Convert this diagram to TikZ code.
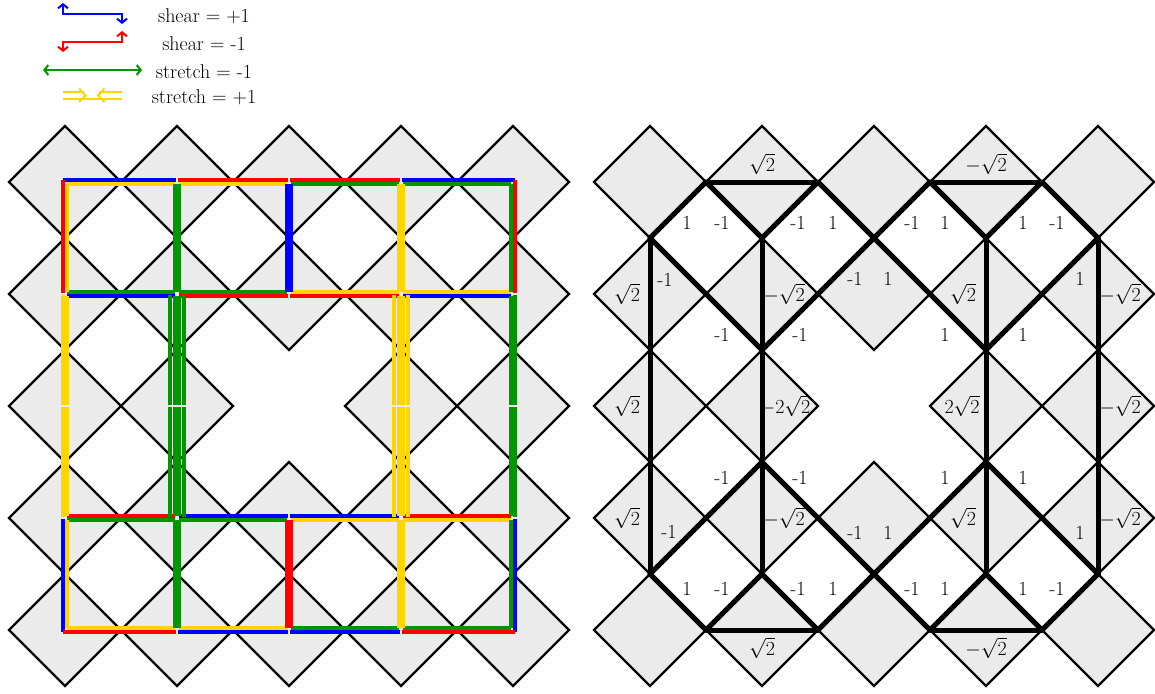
\RequirePackage{fix-cm}
\documentclass[tikz,border=0pt]{standalone}
\usepackage{fontspec}
\usetikzlibrary{arrows.meta}
\definecolor{tilegray}{RGB}{235,235,235}
\definecolor{cblue}{RGB}{0,0,255}
\definecolor{cred}{RGB}{255,0,0}
\definecolor{cgreen}{RGB}{0,150,0}
\definecolor{cyellow}{RGB}{255,213,0}
\newcommand\lnoff{2.3}
\newcommand\Hln[7]{\draw[linkline,#1] ({#2+(#6)*\lnoff},{#4+(#5)*\lnoff}) -- ({#3-(#7)*\lnoff},{#4+(#5)*\lnoff});}
\newcommand\Vln[7]{\draw[linkline,#1] ({#4+(#5)*\lnoff},{#2+(#6)*\lnoff}) -- ({#4+(#5)*\lnoff},{#3-(#7)*\lnoff});}
\newcommand\Cell[8]{%
 \Hln{#5}{#1}{#2}{#3}{1}{1}{1}%
 \Hln{#8}{#1}{#2}{#4}{-1}{1}{1}%
 \Vln{#6}{#3}{#4}{#1}{1}{1}{1}%
 \Vln{#7}{#3}{#4}{#2}{-1}{1}{1}}
\begin{document}
\begin{tikzpicture}[x=1pt,y=-1pt,
  tileshape/.style={fill=tilegray,draw=black,line width=2.2pt,line join=miter},
  linkline/.style={line width=3.9pt},
  thickln/.style={line width=5pt,line cap=round,line join=round},
  lbl/.style={font=\fontsize{20}{24}\selectfont,inner sep=0pt},
  legtxt/.style={font=\fontsize{20}{24}\selectfont,anchor=base,inner sep=0pt},
  legarrow/.style={line width=2pt,{Straight Barb[length=4pt,width=10pt]}-{Straight Barb[length=4pt,width=10pt]}}
]
\useasboundingbox (0,0) rectangle (1155,693);

% ---------- legend ----------
\draw[legarrow,cblue] (63,3) -- (63,14) -- (122,14) -- (122,24);
\draw[legarrow,cred] (63,52) -- (63,42) -- (122,42) -- (122,31);
\draw[legarrow,cgreen] (43,70) -- (142,70);
\draw[cyellow,line width=2pt] (63,99) -- (122,99);
\draw[cyellow,line width=2pt] (63,92) -- (84,92);
\draw[cyellow,line width=2pt] (122,92) -- (99,92);
\draw[cyellow,line width=2pt] (79,88.5) -- (85.5,95.5) -- (79,102);
\draw[cyellow,line width=2pt] (104.5,88.5) -- (98,95.5) -- (104.5,102);
\node[legtxt] (leg1) at (204,23) {shear = +1};
\node[legtxt] (leg2) at (204,50) {shear = -1};
\node[legtxt] (leg3) at (204,78) {stretch = -1};
\node[legtxt] (leg4) at (204,103.5) {stretch = +1};

% ---------- tiles ----------
\foreach \ox in {65,650}{
 \foreach \i in {0,...,4}{
  \foreach \j in {0,...,4}{
   \ifnum\numexpr\i*10+\j\relax=22 \else
    \draw[tileshape] ({\ox+112*\i-56},{182+112*\j}) -- ({\ox+112*\i},{182+112*\j-56})
      -- ({\ox+112*\i+56},{182+112*\j}) -- ({\ox+112*\i},{182+112*\j+56}) -- cycle;
   \fi
}}}

% ---------- left: coloured links ----------
% outer face
\Hln{cblue}{65}{177}{182}{-1}{-1}{.35}
\Hln{cred}{177}{289}{182}{-1}{.35}{.35}
\Hln{cred}{289}{401}{182}{-1}{.35}{.35}
\Hln{cblue}{401}{513}{182}{-1}{.35}{-1}
\Vln{cred}{182}{294}{65}{-1}{-1}{.35}
\Vln{cyellow}{294}{406}{65}{-1}{.35}{.35}
\Vln{cyellow}{406}{518}{65}{-1}{.35}{.35}
\Vln{cblue}{518}{630}{65}{-1}{.35}{-1}
\Vln{cred}{182}{294}{513}{1}{-1}{.35}
\Vln{cgreen}{294}{406}{513}{1}{.35}{.35}
\Vln{cgreen}{406}{518}{513}{1}{.35}{.35}
\Vln{cblue}{518}{630}{513}{1}{.35}{-1}
\Hln{cred}{65}{177}{630}{1}{-1}{.35}
\Hln{cblue}{177}{289}{630}{1}{.35}{.35}
\Hln{cblue}{289}{401}{630}{1}{.35}{.35}
\Hln{cred}{401}{513}{630}{1}{.35}{-1}
% top and bottom cells
\Cell{65}{177}{182}{294}{cyellow}{cyellow}{cgreen}{cgreen}
\Cell{177}{289}{182}{294}{cyellow}{cgreen}{cblue}{cgreen}
\Cell{289}{401}{182}{294}{cgreen}{cblue}{cyellow}{cyellow}
\Cell{401}{513}{182}{294}{cgreen}{cyellow}{cgreen}{cyellow}
\Cell{65}{177}{518}{630}{cgreen}{cyellow}{cgreen}{cyellow}
\Cell{177}{289}{518}{630}{cgreen}{cgreen}{cred}{cyellow}
\Cell{289}{401}{518}{630}{cyellow}{cred}{cyellow}{cgreen}
\Cell{401}{513}{518}{630}{cyellow}{cyellow}{cgreen}{cgreen}
% left tall face
\Hln{cblue}{65}{177}{294}{1}{1}{1}
\Hln{cred}{65}{177}{518}{-1}{1}{1}
\Vln{cyellow}{294}{406}{65}{1}{1}{.35}
\Vln{cyellow}{406}{518}{65}{1}{.35}{1}
\Vln{cgreen}{294}{406}{177}{-1}{1}{.35}
\Vln{cgreen}{406}{518}{177}{-1}{.35}{1}
% middle face
\Hln{cred}{177}{289}{294}{1}{1}{.35}
\Hln{cred}{289}{401}{294}{1}{.35}{1}
\Hln{cblue}{177}{289}{518}{-1}{1}{.35}
\Hln{cblue}{289}{401}{518}{-1}{.35}{1}
\Vln{cgreen}{294}{406}{177}{1}{1}{.35}
\Vln{cgreen}{406}{518}{177}{1}{.35}{1}
\Vln{cyellow}{294}{406}{401}{-1}{1}{.35}
\Vln{cyellow}{406}{518}{401}{-1}{.35}{1}
% right tall face
\Hln{cblue}{401}{513}{294}{1}{1}{1}
\Hln{cred}{401}{513}{518}{-1}{1}{1}
\Vln{cyellow}{294}{406}{401}{1}{1}{.35}
\Vln{cyellow}{406}{518}{401}{1}{.35}{1}
\Vln{cgreen}{294}{406}{513}{-1}{1}{.35}
\Vln{cgreen}{406}{518}{513}{-1}{.35}{1}
% extra lines
\Vln{cgreen}{294}{406}{177}{-2.87}{.6}{.35}
\Vln{cgreen}{406}{518}{177}{-2.87}{.35}{.6}
\Vln{cgreen}{294}{406}{177}{2.87}{.6}{.35}
\Vln{cgreen}{406}{518}{177}{2.87}{.35}{.6}
\Vln{cyellow}{294}{406}{401}{-2.87}{.6}{.35}
\Vln{cyellow}{406}{518}{401}{-2.87}{.35}{.6}
\Vln{cyellow}{294}{406}{401}{2.87}{.6}{.35}
\Vln{cyellow}{406}{518}{401}{2.87}{.35}{.6}

% ---------- right: thick network ----------
\coordinate (t1) at (706,182); \coordinate (t2) at (818,182);
\coordinate (t3) at (930,182); \coordinate (t4) at (1042,182);
\coordinate (u0) at (650,238); \coordinate (u1) at (762,238); \coordinate (u2) at (874,238);
\coordinate (u3) at (986,238); \coordinate (u4) at (1098,238);
\coordinate (m1) at (706,294); \coordinate (m2) at (818,294);
\coordinate (m3) at (930,294); \coordinate (m4) at (1042,294);
\coordinate (c1) at (762,350); \coordinate (c2) at (986,350);
\coordinate (d1) at (762,462); \coordinate (d2) at (986,462);
\coordinate (n1) at (706,518); \coordinate (n2) at (818,518);
\coordinate (n3) at (930,518); \coordinate (n4) at (1042,518);
\coordinate (l0) at (650,574); \coordinate (l1) at (762,574); \coordinate (l2) at (874,574);
\coordinate (l3) at (986,574); \coordinate (l4) at (1098,574);
\coordinate (b1) at (706,630); \coordinate (b2) at (818,630);
\coordinate (b3) at (930,630); \coordinate (b4) at (1042,630);

\draw[thickln] (t1) -- (t2); \draw[thickln] (t3) -- (t4);
\draw[thickln] (b1) -- (b2); \draw[thickln] (b3) -- (b4);
\draw[thickln] (u0) -- (t1) -- (u1) -- (t2) -- (u2) -- (t3) -- (u3) -- (t4) -- (u4);
\draw[thickln] (l0) -- (b1) -- (l1) -- (b2) -- (l2) -- (b3) -- (l3) -- (b4) -- (l4);
\draw[thickln] (u0) -- (m1) -- (c1) -- (m2) -- (u2) -- (m3) -- (c2) -- (m4) -- (u4);
\draw[thickln] (l0) -- (n1) -- (d1) -- (n2) -- (l2) -- (n3) -- (d2) -- (n4) -- (l4);
\draw[thickln] (u0) -- (l0); \draw[thickln] (u1) -- (l1);
\draw[thickln] (u3) -- (l3); \draw[thickln] (u4) -- (l4);

% labels
\node[lbl] (q1) at (762,164) {$\sqrt{2}$};
\node[lbl] (q2) at (986,164) {$-\sqrt{2}$};
\node[lbl] (q3) at (762,648) {$\sqrt{2}$};
\node[lbl] (q4) at (986,648) {$-\sqrt{2}$};
\foreach \yy/\nm in {223/a,589/b}{
 \node[lbl] (\nm1) at (687,\yy) {1};
 \node[lbl] (\nm2) at (722,\yy) {-1};
 \node[lbl] (\nm3) at (798,\yy) {-1};
 \node[lbl] (\nm4) at (833,\yy) {1};
 \node[lbl] (\nm5) at (912,\yy) {-1};
 \node[lbl] (\nm6) at (945,\yy) {1};
 \node[lbl] (\nm7) at (1023,\yy) {1};
 \node[lbl] (\nm8) at (1057,\yy) {-1};
}
\node[lbl] (e1) at (665,280) {-1};
\node[lbl] (e2) at (855,279) {-1};
\node[lbl] (e3) at (888,279) {1};
\node[lbl] (e4) at (1080,279) {1};
\node[lbl] (e5) at (669,532) {-1};
\node[lbl] (e6) at (855,533) {-1};
\node[lbl] (e7) at (888,533) {1};
\node[lbl] (e8) at (1080,533) {1};
\foreach \yy/\nm in {335/f,478/g}{
 \node[lbl] (\nm1) at (722,\yy) {-1};
 \node[lbl] (\nm2) at (800,\yy) {-1};
 \node[lbl] (\nm3) at (945,\yy) {1};
 \node[lbl] (\nm4) at (1023,\yy) {1};
}
\node[lbl] (h1) at (627,294) {$\sqrt{2}$};
\node[lbl] (h2) at (627,406) {$\sqrt{2}$};
\node[lbl] (h3) at (627,518) {$\sqrt{2}$};
\node[lbl] (h4) at (784,294) {$-\sqrt{2}$};
\node[lbl] (h5) at (785,406) {$-2\sqrt{2}$};
\node[lbl] (h6) at (784,518) {$-\sqrt{2}$};
\node[lbl] (h7) at (963,294) {$\sqrt{2}$};
\node[lbl] (h8) at (962,406) {$2\sqrt{2}$};
\node[lbl] (h9) at (963,518) {$\sqrt{2}$};
\node[lbl] (h10) at (1120,294) {$-\sqrt{2}$};
\node[lbl] (h11) at (1120,406) {$-\sqrt{2}$};
\node[lbl] (h12) at (1120,518) {$-\sqrt{2}$};
\end{tikzpicture}
\end{document}
